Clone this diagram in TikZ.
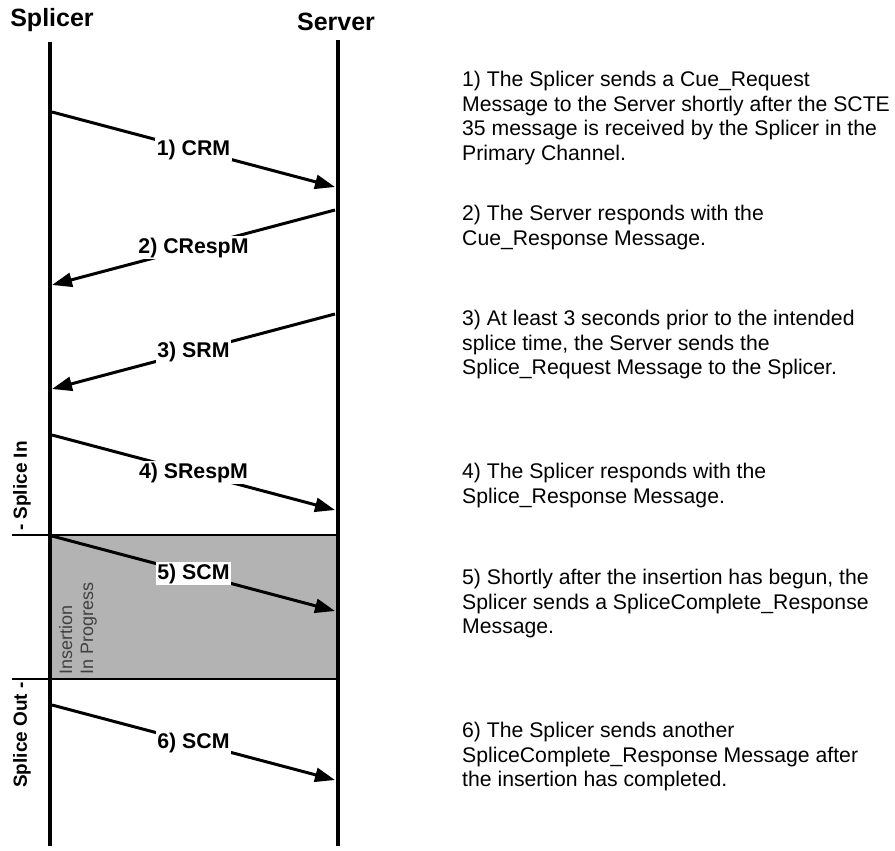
\documentclass[tikz,border=0pt]{standalone}
\usepackage{fontspec}
\setmainfont{Liberation Sans}
\usetikzlibrary{arrows.meta}
\definecolor{insgray}{HTML}{B3B3B3}
\definecolor{instext}{HTML}{404040}
\begin{document}
\begin{tikzpicture}[x=1pt,y=-1pt,
  lifeline/.style={line width=4.5pt},
  msgarrow/.style={line width=3pt,-{Triangle[length=20pt,width=14pt]}},
  msglabel/.style={fill=white,inner sep=1.5pt,font=\fontsize{21.3}{25}\selectfont\bfseries},
  titlelabel/.style={font=\fontsize{25}{30}\selectfont\bfseries,anchor=base},
  note/.style={anchor=north west,align=left,inner sep=0pt,font=\fontsize{21.2}{24.5}\selectfont},
  sidelabel/.style={rotate=90,font=\fontsize{19}{22}\selectfont\bfseries,inner sep=0pt},
  bandline/.style={line width=1.5pt}]
\useasboundingbox (0,0) rectangle (895,851);

% titles
\node[titlelabel] (splicer) at (52,27) {Splicer};
\node[titlelabel] (server) at (336,31) {Server};

% insertion band
\coordinate (bandTL) at (50,535);
\coordinate (bandBR) at (338,679);
\fill[insgray] (bandTL) rectangle (bandBR);
\coordinate (bandTopL) at (12,535);
\coordinate (bandTopR) at (338,535);
\coordinate (bandBotL) at (12,679);
\coordinate (bandBotR) at (338,679);
\draw[bandline] (bandTopL) -- (bandTopR);
\draw[bandline] (bandBotL) -- (bandBotR);

% lifelines
\coordinate (spTop) at (50,42);
\coordinate (spBot) at (50,846);
\coordinate (svTop) at (338,40);
\coordinate (svBot) at (338,846);
\draw[lifeline] (spTop) -- (spBot);
\draw[lifeline] (svTop) -- (svBot);

% message end points
\coordinate (m1s) at (52,112);  \coordinate (m1e) at (335,187);
\coordinate (m2s) at (335,210); \coordinate (m2e) at (52,285);
\coordinate (m3s) at (335,314); \coordinate (m3e) at (52,389);
\coordinate (m4s) at (52,435);  \coordinate (m4e) at (335,510);
\coordinate (m5s) at (52,536);  \coordinate (m5e) at (335,611);
\coordinate (m6s) at (52,705);  \coordinate (m6e) at (335,780);

\draw[msgarrow] (m1s) -- node[msglabel] (l1) {1) CRM} (m1e);
\draw[msgarrow] (m2s) -- node[msglabel] (l2) {2) CRespM} (m2e);
\draw[msgarrow] (m3s) -- node[msglabel] (l3) {3) SRM} (m3e);
\draw[msgarrow] (m4s) -- node[msglabel] (l4) {4) SRespM} (m4e);
\draw[msgarrow] (m5s) -- node[msglabel] (l5) {5) SCM} (m5e);
\draw[msgarrow] (m6s) -- node[msglabel] (l6) {6) SCM} (m6e);

% side labels
\node[sidelabel] (splicein) at (22,486) {- Splice In};
\node[sidelabel] (spliceout) at (22,735) {Splice Out -};
\node[rotate=90,anchor=north west,align=left,inner sep=0pt,text=instext,
      font=\fontsize{18}{21}\selectfont] (insertion) at (59,675) {Insertion\\In Progress};

% notes
\node[note] (n1) at (462,71) {1) The Splicer sends a Cue\_Request\\Message to the Server shortly after the SCTE\\35 message is received by the Splicer in the\\Primary Channel.};
\node[note] (n2) at (462,205) {2) The Server responds with the\\Cue\_Response Message.};
\node[note] (n3) at (462,310) {3) At least 3 seconds prior to the intended\\splice time, the Server sends the\\Splice\_Request Message to the Splicer.};
\node[note] (n4) at (462,463) {4) The Splicer responds with the\\Splice\_Response Message.};
\node[note] (n5) at (462,569) {5) Shortly after the insertion has begun, the\\Splicer sends a SpliceComplete\_Response\\Message.};
\node[note] (n6) at (462,722) {6) The Splicer sends another\\SpliceComplete\_Response Message after\\the insertion has completed.};
\end{tikzpicture}
\end{document}
